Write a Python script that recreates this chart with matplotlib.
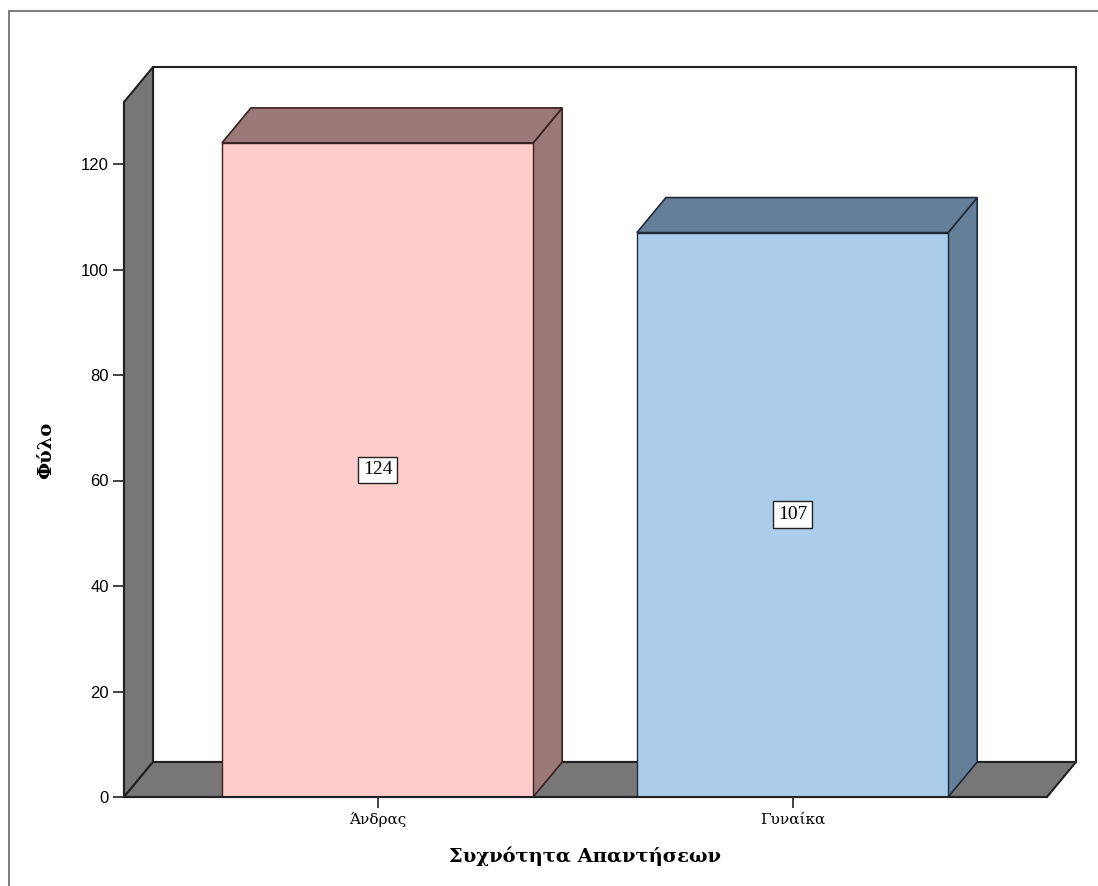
import matplotlib
matplotlib.use("Agg")
import matplotlib.pyplot as plt
from matplotlib.patches import Polygon, Rectangle

# data
categories = ["Άνδρας", "Γυναίκα"]
counts = [124, 107]
front_colors = ["#FFCCCC", "#ABCDEB"]
side_colors = ["#9C7979", "#647F97"]
edge_colors = ["#3A2020", "#1E2A3A"]
yticks = [0, 20, 40, 60, 80, 100, 120]

W, H = 1098, 886
fig = plt.figure(figsize=(W / 100, H / 100), dpi=100)

# outer frame
fig.patches.append(Rectangle((9 / W, -0.1), 1.2, 1 - 11 / H + 0.1, transform=fig.transFigure,
                             fill=False, edgecolor="#666666", linewidth=1.2))

ax = fig.add_axes([124 / W, 89 / H, 952 / W, 730 / H])
ax.set_facecolor("none")

x0, x1 = -0.611, 1.613        # front plane x range
ytop = 131.75                 # front plane top
dx, dy = 0.0699, 6.635        # depth offset
ax.set_xlim(x0, x0 + 952 / 415)
ax.set_ylim(0, 730 / 5.275)

gray = "#777777"
# back wall
ax.add_patch(Rectangle((x0 + dx, dy), x1 - x0, ytop, facecolor="white", edgecolor="#222222", lw=1.5,
                       zorder=1, clip_on=False))
# left wall
ax.add_patch(Polygon([(x0, 0), (x0, ytop), (x0 + dx, ytop + dy), (x0 + dx, dy)],
                     facecolor=gray, edgecolor="#222222", lw=1.5, zorder=2, clip_on=False))
# floor
ax.add_patch(Polygon([(x0, 0), (x1, 0), (x1 + dx, dy), (x0 + dx, dy)],
                     facecolor=gray, edgecolor="#222222", lw=1.5, zorder=2, clip_on=False))

bw = 0.75
for i, (v, fc, sc, ec) in enumerate(zip(counts, front_colors, side_colors, edge_colors)):
    l, r = i - bw / 2, i + bw / 2
    ax.add_patch(Polygon([(r, 0), (r + dx, dy), (r + dx, v + dy), (r, v)],
                         facecolor=sc, edgecolor=ec, lw=1.2, zorder=3))
    ax.add_patch(Polygon([(l, v), (r, v), (r + dx, v + dy), (l + dx, v + dy)],
                         facecolor=sc, edgecolor=ec, lw=1.2, zorder=3))
    ax.add_patch(Rectangle((l, 0), bw, v, facecolor=fc, edgecolor=ec, lw=1.0, zorder=4))
    ax.text(i, v / 2, str(v), ha="center", va="center", fontsize=14, family="Liberation Serif", zorder=5,
            bbox=dict(boxstyle="square,pad=0.25", facecolor="white", edgecolor="#222222", lw=1))

for s in ["top", "right"]:
    ax.spines[s].set_visible(False)
ax.spines["left"].set_bounds(0, ytop)
ax.spines["bottom"].set_bounds(x0, x1)
for s in ["left", "bottom"]:
    ax.spines[s].set_linewidth(1.5)
    ax.spines[s].set_color("#222222")
    ax.spines[s].set_zorder(6)

ax.set_yticks(yticks)
ax.set_yticklabels([str(t) for t in yticks], family="Liberation Sans", fontsize=12)
ax.set_xticks(range(len(categories)))
ax.set_xticklabels(categories, family="DejaVu Serif", fontsize=11)
ax.tick_params(axis="both", direction="out", length=8, width=1.2, color="#222222", pad=3)

ax.set_ylabel("Φύλο", family="DejaVu Serif", fontweight="bold", fontsize=14)
ax.yaxis.set_label_coords(-(124 - 55) / 952, (797 - 450) / 730)
ax.set_xlabel("Συχνότητα Απαντήσεων", family="DejaVu Serif", fontweight="bold", fontsize=14)
ax.xaxis.set_label_coords((585 - 124) / 952, -(846 - 797) / 730)

fig.savefig("out.png", dpi=100)
